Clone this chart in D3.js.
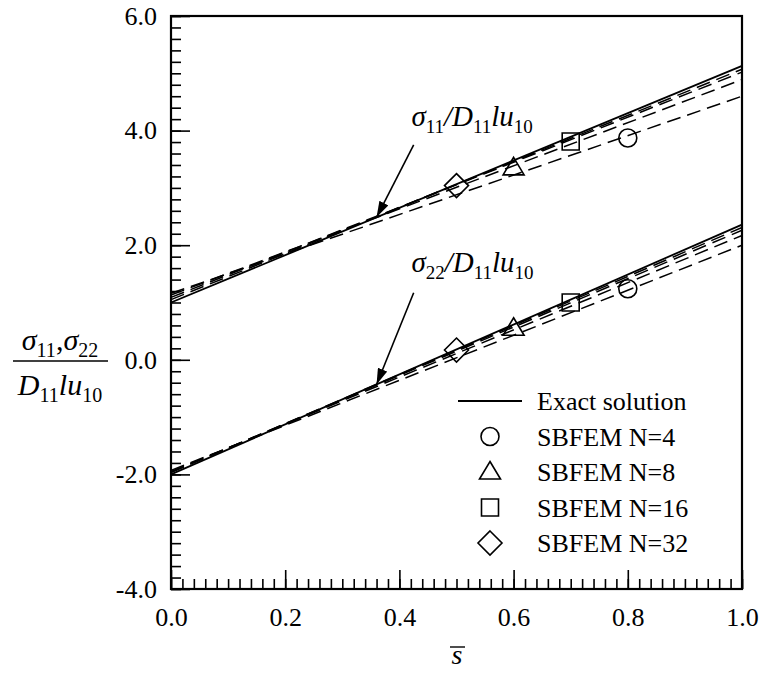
<!DOCTYPE html>
<html>
<head>
<meta charset="utf-8">
<script src="https://cdn.jsdelivr.net/npm/d3@7"></script>
<style>
  html, body { margin: 0; padding: 0; background: #fff; }
  svg { display: block; }
</style>
</head>
<body>
<svg id="chart" width="764" height="674"></svg>
<script>
// Normalised coordinate along the edge: each line is straight, so its two end values define it
const sPoints = [0, 1];

// sigma_11 / D11 l u10
const sigma11Exact = [1.00, 5.13];
const sigma11N4 = [1.16, 4.60];
const sigma11N8 = [1.13, 4.89];
const sigma11N16 = [1.09, 5.02];
const sigma11N32 = [1.05, 5.07];

// sigma_22 / D11 l u10
const sigma22Exact = [-2.00, 2.36];
const sigma22N4 = [-1.93, 2.00];
const sigma22N8 = [-1.95, 2.17];
const sigma22N16 = [-1.96, 2.26];
const sigma22N32 = [-1.97, 2.31];

// One symbol per mesh, placed at a single s on each curve
const meshNames = ["SBFEM N=4", "SBFEM N=8", "SBFEM N=16", "SBFEM N=32"];
const meshSymbols = ["circle", "triangle", "square", "diamond"];
const markerS = [0.8, 0.6, 0.7, 0.5];
const sigma11Markers = [3.87, 3.35, 3.81, 3.04];
const sigma22Markers = [1.24, 0.55, 1.00, 0.17];

const xTicks = [0, 0.2, 0.4, 0.6, 0.8, 1.0];
const yTicks = [-4, -2, 0, 2, 4, 6];

const FONT = "Liberation Serif";

const svg = d3.select("#chart");
const plotLeft = 171, plotRight = 742, plotTop = 16, plotBottom = 589;
const x = d3.scaleLinear().domain([0, 1]).range([plotLeft, plotRight]);
const y = d3.scaleLinear().domain([-4, 6]).range([plotBottom, plotTop]);

function addText(g, px, py, size) {
  return g.append("text").attr("x", px).attr("y", py)
    .attr("font-family", FONT).attr("font-size", size).attr("fill", "#000");
}

// symbol path generators (centred on 0,0)
function symbolPath(kind) {
  if (kind === "circle") return "M9,0A9,9 0 1,1 -9,0A9,9 0 1,1 9,0Z";
  if (kind === "square") return "M-8.5,-8.5H8.5V8.5H-8.5Z";
  if (kind === "diamond") return "M0,-12L12,0L0,12L-12,0Z";
  return "M0,-10.5L10.5,7L-10.5,7Z";
}

// ---- data lines
const line = d3.line().x((d, i) => x(sPoints[i])).y(d => y(d));
const plot = svg.append("g");
const dashed = [sigma11N4, sigma11N8, sigma11N16, sigma11N32,
                sigma22N4, sigma22N8, sigma22N16, sigma22N32];
dashed.forEach(v => {
  plot.append("path").attr("d", line(v))
    .attr("fill", "none").attr("stroke", "#000")
    .attr("stroke-width", 1.5).attr("stroke-dasharray", "14,7");
});
[sigma11Exact, sigma22Exact].forEach(v => {
  plot.append("path").attr("d", line(v))
    .attr("fill", "none").attr("stroke", "#000").attr("stroke-width", 1.8);
});

// ---- symbols
[sigma11Markers, sigma22Markers].forEach(vals => {
  vals.forEach((v, i) => {
    plot.append("path")
      .attr("d", symbolPath(meshSymbols[i]))
      .attr("transform", `translate(${x(markerS[i])},${y(v)})`)
      .attr("fill", "none").attr("stroke", "#000").attr("stroke-width", 1.6);
  });
});

// ---- axes (ticks on left and bottom only, plain frame elsewhere)
const fmt = d => d3.format(".1f")(d).replace("\u2212", "-");
const xAxis = d3.axisBottom(x).tickValues(xTicks).tickFormat(fmt)
  .tickSize(-19).tickPadding(19);
const xMinor = d3.axisBottom(x).tickValues(d3.range(0, 1.0001, 0.02)).tickFormat("").tickSize(-10);
const yAxis = d3.axisLeft(y).tickValues(yTicks).tickFormat(fmt)
  .tickSize(-19).tickPadding(14);
const yMinor = d3.axisLeft(y).tickValues(d3.range(-4, 6.0001, 0.2)).tickFormat("").tickSize(-10);

function styleAxis(g) {
  g.attr("font-family", FONT).attr("font-size", 26);
  g.select(".domain").remove();
  g.selectAll("line").attr("stroke", "#000").attr("stroke-width", 1.6);
  g.selectAll("text").attr("font-family", FONT).attr("font-size", 26).attr("fill", "#000");
}
svg.append("g").attr("transform", `translate(0,${plotBottom})`).call(xMinor).call(styleAxis);
svg.append("g").attr("transform", `translate(0,${plotBottom})`).call(xAxis).call(styleAxis);
svg.append("g").attr("transform", `translate(${plotLeft},0)`).call(yMinor).call(styleAxis);
svg.append("g").attr("transform", `translate(${plotLeft},0)`).call(yAxis).call(styleAxis);

svg.append("rect").attr("x", plotLeft).attr("y", plotTop)
  .attr("width", plotRight - plotLeft).attr("height", plotBottom - plotTop)
  .attr("fill", "none").attr("stroke", "#000").attr("stroke-width", 2.2);

// ---- legend
const legend = svg.append("g");
const legX = 490, legText = 537, legY0 = 401, legStep = 35.5;
legend.append("line").attr("x1", legX - 32).attr("x2", legX + 32)
  .attr("y1", legY0).attr("y2", legY0).attr("stroke", "#000").attr("stroke-width", 1.8);
addText(legend, legText, legY0 + 9, 26).text("Exact solution");
meshNames.forEach((name, i) => {
  const yy = legY0 + legStep * (i + 1);
  legend.append("path").attr("d", symbolPath(meshSymbols[i]))
    .attr("transform", `translate(${legX},${yy})`)
    .attr("fill", "none").attr("stroke", "#000").attr("stroke-width", 1.6);
  addText(legend, legText, yy + 9, 26).text(name);
});

// ---- stress labels with arrows
svg.append("defs").append("marker").attr("id", "head")
  .attr("viewBox", "0 0 16 10").attr("refX", 16).attr("refY", 5)
  .attr("markerWidth", 16).attr("markerHeight", 10).attr("markerUnits", "userSpaceOnUse")
  .attr("orient", "auto")
  .append("path").attr("d", "M0,0L16,5L0,10Z").attr("fill", "#000");

function stressLabel(g, px, py, sub) {
  const t = addText(g, px, py, 29);
  t.append("tspan").attr("font-style", "italic").text("σ");
  t.append("tspan").attr("dy", 7).attr("font-size", 19).text(sub);
  t.append("tspan").attr("dy", -7).attr("font-style", "italic").text("/D");
  t.append("tspan").attr("dy", 7).attr("font-size", 19).text("11");
  t.append("tspan").attr("dy", -7).attr("font-style", "italic").text("lu");
  t.append("tspan").attr("dy", 7).attr("font-size", 19).text("10");
}
const ann = svg.append("g");
const labelS = 0.421;
stressLabel(ann, x(labelS), y(4.08), "11");
stressLabel(ann, x(labelS), y(1.53), "22");

// arrows end on the exact curves
const arrowTipS = 0.36;
const exactAt = (v, s) => v[0] + (v[1] - v[0]) * s;
const arrows = [
  { from: [0.425, 3.75], to: [arrowTipS, exactAt(sigma11Exact, arrowTipS)] },
  { from: [0.425, 1.17], to: [arrowTipS, exactAt(sigma22Exact, arrowTipS)] }
];
arrows.forEach(a => {
  ann.append("line")
    .attr("x1", x(a.from[0])).attr("y1", y(a.from[1]))
    .attr("x2", x(a.to[0])).attr("y2", y(a.to[1]))
    .attr("stroke", "#000").attr("stroke-width", 1.6)
    .attr("marker-end", "url(#head)");
});

// ---- axis titles
const yl = svg.append("g");
const num = addText(yl, 60, 350, 30).attr("text-anchor", "middle");
num.append("tspan").attr("font-style", "italic").text("σ");
num.append("tspan").attr("dy", 7).attr("font-size", 20).text("11");
num.append("tspan").attr("dy", -7).text(",");
num.append("tspan").attr("font-style", "italic").text("σ");
num.append("tspan").attr("dy", 7).attr("font-size", 20).text("22");
yl.append("line").attr("x1", 13).attr("x2", 108).attr("y1", 361).attr("y2", 361)
  .attr("stroke", "#000").attr("stroke-width", 1.6);
const den = addText(yl, 60, 395, 30).attr("text-anchor", "middle");
den.append("tspan").attr("font-style", "italic").text("D");
den.append("tspan").attr("dy", 7).attr("font-size", 20).text("11");
den.append("tspan").attr("dy", -7).attr("font-style", "italic").text("lu");
den.append("tspan").attr("dy", 7).attr("font-size", 20).text("10");

addText(svg, 457, 664, 28).attr("text-anchor", "middle").attr("font-style", "italic").text("s");
svg.append("line").attr("x1", 450).attr("x2", 465).attr("y1", 647).attr("y2", 647)
  .attr("stroke", "#000").attr("stroke-width", 1.4);
</script>
</body>
</html>
